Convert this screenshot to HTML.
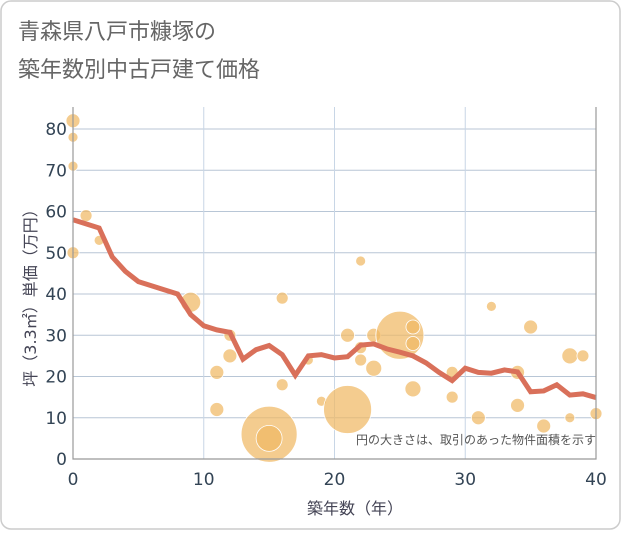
<!DOCTYPE html>
<html><head><meta charset="utf-8"><style>
body{margin:0;background:#fff;font-family:"DejaVu Sans","Noto Sans CJK JP",sans-serif}
#wrap{position:relative;width:621px;height:530px}
</style></head><body>
<div id="wrap">
<svg id="svg" width="621" height="530" xmlns="http://www.w3.org/2000/svg">
<rect x="1" y="1" width="619" height="528" rx="10" fill="#fff" stroke="#ccc" stroke-width="1.5"/>
<text x="18" y="39" font-size="22" fill="#666" font-family="DejaVu Sans, Noto Sans CJK JP, sans-serif">青森県八戸市糠塚の</text>
<text x="18" y="77" font-size="22" fill="#666" font-family="DejaVu Sans, Noto Sans CJK JP, sans-serif">築年数別中古戸建て価格</text>
<g id="grid"></g><g id="bubbles"></g><g id="line"></g><g id="axes"></g>
<text x="596" y="444" font-size="12" fill="#555" text-anchor="end" font-family="DejaVu Sans, Noto Sans CJK JP, sans-serif">円の大きさは、取引のあった物件面積を示す</text>
<text x="355" y="514" font-size="16" fill="#445" text-anchor="middle" font-family="DejaVu Sans, Noto Sans CJK JP, sans-serif">築年数（年）</text>
<text transform="translate(36,294) rotate(-90)" font-size="16" fill="#445" text-anchor="middle" font-family="DejaVu Sans, Noto Sans CJK JP, sans-serif">坪（3.3㎡）単価（万円）</text>
</svg>
</div>
<script>
const xTicks=[0,10,20,30,40];
const yTicks=[0,10,20,30,40,50,60,70,80];
const bubbleYears=[0,0,0,0,1,2,9,12,12,11,11,15,15,16,16,18,19,21,21,22,22,22,23,23,25,26,26,26,29,29,31,32,34,34,35,36,38,38,39,40];
const bubbleValues=[82,78,71,50,59,53,38,30,25,21,12,6,5,39,18,24,14,12,30,48,27,24,22,30,30,32,28,17,21,15,10,37,21,13,32,8,25,10,25,11];
const bubbleSizes=[7,5,5,6,6,5,10,6,7,7,7,28,13,6,6,5,5,24,7,5,6,6,8,7,24,7,7,8,6,6,7,5,7,7,7,7,8,5,6,6];
const lineYears=[0,1,2,3,4,5,6,7,8,9,10,11,12,13,14,15,16,17,18,19,20,21,22,23,24,25,26,27,28,29,30,31,32,33,34,35,36,37,38,39,40];
const lineValues=[58,57,56,49,45.5,43,42,41,40,35,32.3,31.3,30.7,24.2,26.5,27.5,25.3,20.3,25,25.3,24.5,24.8,27.6,27.9,26.7,25.9,25,23.3,21,19,22,21,20.8,21.6,21.1,16.3,16.5,18,15.5,15.8,14.9];
const X0=73,X1=596,Y0=459,Y1=129;
const xs=v=>X0+(X1-X0)*v/40;
const ys=v=>Y0-(Y0-Y1)*v/80;
const NS="http://www.w3.org/2000/svg";
function mk(t,a,p){const e=document.createElementNS(NS,t);for(const k in a)e.setAttribute(k,a[k]);p.appendChild(e);return e;}
const grid=document.getElementById('grid'),axes=document.getElementById('axes');
yTicks.forEach(v=>{const l=mk('line',{x1:X0,x2:X1,y1:ys(v),y2:ys(v),stroke:'#b8c6d6','stroke-width':1},grid);

const t=mk('text',{x:X0-6,y:ys(v)+6,'font-size':17,fill:'#345','text-anchor':'end'},axes);t.textContent=v;
});
xTicks.forEach(v=>{const l=mk('line',{x1:xs(v),x2:xs(v),y1:Y1-22,y2:Y0,stroke:'#c8d6e6','stroke-width':1},grid);

const t=mk('text',{x:xs(v),y:Y0+26,'font-size':17,fill:'#345','text-anchor':'middle'},axes);t.textContent=v;
});
const ax=mk('path',{d:`M${X0},${Y1-22}V${Y0}H${X1}V${Y1-22}`,fill:'none',stroke:'#999','stroke-width':1.2},axes);

const bg=document.getElementById('bubbles');
bubbleYears.forEach((yr,i)=>{const c=mk('circle',{cx:xs(yr),cy:ys(bubbleValues[i]),r:bubbleSizes[i],fill:'rgba(240,185,100,0.72)',stroke:'#fff','stroke-width':0.8},bg);
});
const d=lineYears.map((yr,i)=>(i?'L':'M')+xs(yr)+','+ys(lineValues[i])).join('');
const p=mk('path',{d:d,fill:'none',stroke:'#d9705a','stroke-width':5,'stroke-linejoin':'miter'},document.getElementById('line'));

</script>
</body></html>
